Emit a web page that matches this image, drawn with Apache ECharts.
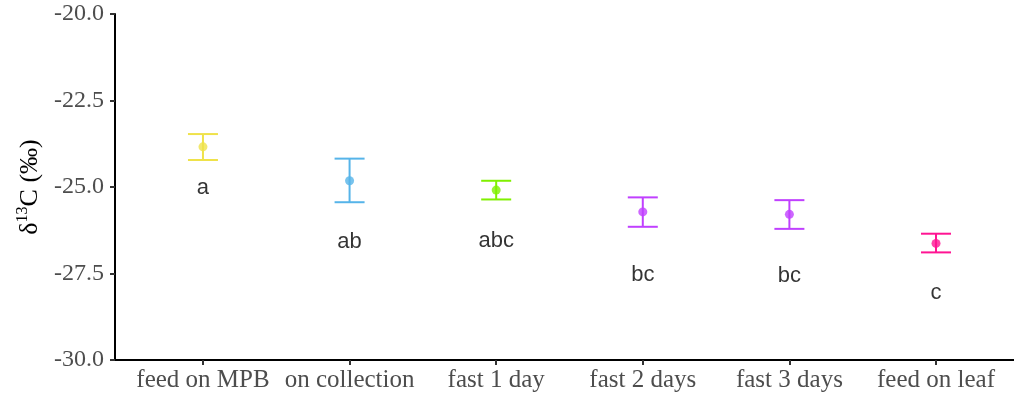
<!DOCTYPE html>
<html>
<head>
<meta charset="utf-8">
<script src="https://cdn.jsdelivr.net/npm/echarts@6/dist/echarts.min.js"></script>
<style>html,body{margin:0;padding:0;background:#fff}#c{width:1014px;height:399px}</style>
</head>
<body>
<div id="c"></div>
<script>
const categories = ['feed on MPB', 'on collection', 'fast 1 day', 'fast 2 days', 'fast 3 days', 'feed on leaf'];
const means = [-23.84, -24.82, -25.09, -25.72, -25.79, -26.63];
const upper = [-23.47, -24.18, -24.82, -25.30, -25.38, -26.35];
const lower = [-24.22, -25.44, -25.36, -26.15, -26.21, -26.89];
const letters = ['a', 'ab', 'abc', 'bc', 'bc', 'c'];
const letterY = [-25.03, -26.58, -26.56, -27.54, -27.56, -28.06];
const yTicks = [-30, -27.5, -25, -22.5, -20];
const colors = ['#EFE24A', '#56B4E9', '#80F000', '#C040FF', '#C040FF', '#FF1493'];

const xs = categories.map((c, i) => i + 1);
const chart = echarts.init(document.getElementById('c'), null, {renderer: 'canvas'});
const serif = '"Liberation Serif", "Times New Roman", serif';
const sans = '"Liberation Sans", Arial, sans-serif';

chart.setOption({
  animation: false,
  backgroundColor: '#fff',
  grid: {left: 115, right: 0, top: 14, bottom: 39, containLabel: false},
  xAxis: {
    type: 'value', min: 0.4, max: 6.532,
    axisLine: {show: true, onZero: false, lineStyle: {color: '#000', width: 2}},
    axisTick: {show: true, customValues: xs, length: 5, lineStyle: {color: '#333', width: 2}},
    axisLabel: {show: true, customValues: xs, formatter: v => categories[Math.round(v) - 1] || '',
      color: '#4d4d4d', fontFamily: serif, fontSize: 25, margin: 8},
    splitLine: {show: false}
  },
  yAxis: {
    type: 'value', min: -30, max: -20, interval: 2.5,
    axisLine: {show: true, onZero: false, lineStyle: {color: '#000', width: 2}},
    axisTick: {show: true, length: 5, lineStyle: {color: '#333', width: 2}},
    axisLabel: {color: '#4d4d4d', fontFamily: serif, fontSize: 24, margin: 11,
      formatter: v => v.toFixed(1)},
    splitLine: {show: false},
    name: '{d|δ}{s|13}{d|C (‰)}',
    nameLocation: 'middle', nameGap: 72, nameRotate: 90,
    nameTextStyle: {
      rich: {
        d: {fontFamily: serif, fontSize: 26, color: '#000', lineHeight: 28, verticalAlign: 'bottom'},
        s: {fontFamily: serif, fontSize: 16, color: '#000', lineHeight: 28, verticalAlign: 'top'}
      }
    }
  },
  series: [
    {
      type: 'custom',
      data: xs.map((x, i) => [x, lower[i], upper[i]]),
      renderItem: function (params, api) {
        const i = params.dataIndex;
        const x = api.value(0);
        const lo = api.coord([x, api.value(1)]);
        const hi = api.coord([x, api.value(2)]);
        const hw = 15;
        const st = {stroke: colors[i], lineWidth: 2};
        return {type: 'group', children: [
          {type: 'line', shape: {x1: lo[0], y1: lo[1], x2: hi[0], y2: hi[1]}, style: st},
          {type: 'line', shape: {x1: lo[0] - hw, y1: lo[1], x2: lo[0] + hw, y2: lo[1]}, style: st},
          {type: 'line', shape: {x1: hi[0] - hw, y1: hi[1], x2: hi[0] + hw, y2: hi[1]}, style: st}
        ]};
      },
      z: 2
    },
    {
      type: 'scatter',
      data: xs.map((x, i) => ({value: [x, means[i]], itemStyle: {color: colors[i]}})),
      symbol: 'circle', symbolSize: 9, z: 3
    },
    {
      type: 'scatter',
      data: xs.map((x, i) => ({value: [x, letterY[i]], name: letters[i]})),
      symbolSize: 0,
      label: {show: true, position: 'inside', formatter: p => p.name,
        color: '#000', fontFamily: sans, fontSize: 22, verticalAlign: 'middle', align: 'center'},
      z: 4
    }
  ],
  graphic: [
    {type: 'text', x: 22, y: -19, style: {text: 'b', font: '24px ' + serif, fill: '#000'}}
  ]
});
</script>
</body>
</html>
